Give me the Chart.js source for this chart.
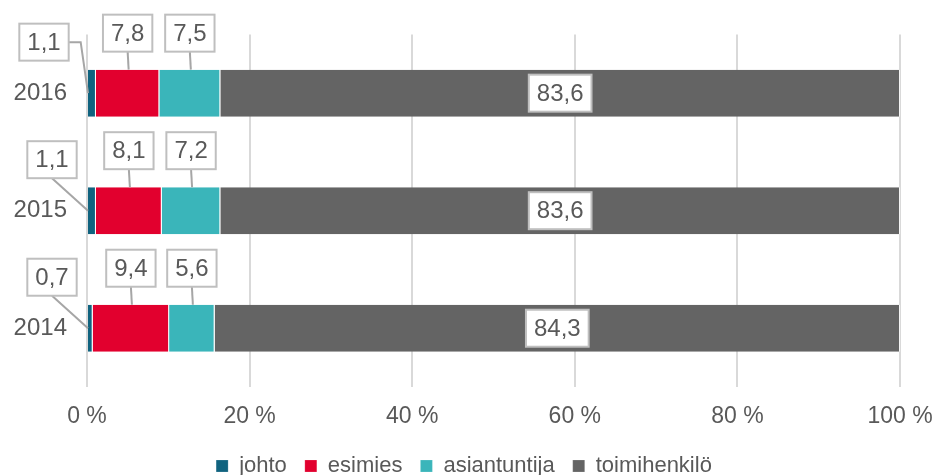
<!DOCTYPE html>
<html lang="fi">
<head>
<meta charset="utf-8">
<title>Henkilöstö tehtävätason mukaan</title>
<script src="https://cdn.jsdelivr.net/npm/chart.js@4.4.1/dist/chart.umd.min.js"></script>
<style>
  html, body { margin: 0; padding: 0; background: #fff; }
  #wrap { width: 934px; height: 475px; }
</style>
</head>
<body>
<div id="wrap"><canvas id="chart" width="934" height="475"></canvas></div>
<script>
// categories (top to bottom) and shares in percent
const years = ['2016', '2015', '2014'];
const johto = [1.1, 1.1, 0.7];
const esimies = [7.8, 8.1, 9.4];
const asiantuntija = [7.5, 7.2, 5.6];
const toimihenkilo = [83.6, 83.6, 84.3];
const xTicks = [0, 20, 40, 60, 80, 100];

const TEXT = '#595959';
const FONT = "'Liberation Sans', Arial, sans-serif";

// value as text with a decimal comma
function fi(v){ return v.toFixed(1).replace('.', ','); }

// boxed value labels; the first three series sit above the bar with a leader line
const boxLabels = {
  id: 'boxLabels',
  afterDatasetsDraw(chart){
    const ctx = chart.ctx;
    ctx.save();
    ctx.font = '24px ' + FONT;
    ctx.textAlign = 'center';
    ctx.textBaseline = 'middle';
    chart.data.datasets.forEach((ds, i) => {
      const meta = chart.getDatasetMeta(i);
      meta.data.forEach((bar, j) => {
        const txt = fi(ds.data[j]);
        const w = ctx.measureText(txt).width + 16;
        const h = 37;
        const top = bar.y - bar.height / 2;
        const left = Math.min(bar.x, bar.base);
        const cx = (bar.x + bar.base) / 2;
        let bx, by;
        ctx.strokeStyle = '#a6a6a6';
        ctx.lineWidth = 2;
        if(i === 3){
          bx = cx; by = bar.y;
        } else if(i === 0){
          bx = left - (j === 0 ? 44 : 36);
          by = top - 9 - h / 2;
          ctx.beginPath();
          if(j === 0){
            ctx.moveTo(bx + w / 2, by);
            ctx.lineTo(bx + w / 2 + 12, by);
          } else {
            ctx.moveTo(bx, by + h / 2);
          }
          ctx.lineTo(left, bar.y);
          ctx.stroke();
        } else {
          bx = cx;
          by = top - 18 - h / 2;
          ctx.beginPath();
          ctx.moveTo(bx, by + h / 2);
          ctx.lineTo(cx + 1, top);
          ctx.stroke();
        }
        ctx.fillStyle = '#fff';
        ctx.fillRect(bx - w / 2, by - h / 2, w, h);
        ctx.strokeStyle = '#bfbfbf';
        ctx.strokeRect(bx - w / 2, by - h / 2, w, h);
        ctx.fillStyle = TEXT;
        ctx.fillText(txt, bx, by + 1);
      });
    });
    ctx.restore();
  }
};

// fixed legend height so the plot bottom lands where it should,
// and a small nudge right after layout
const legendHeight = {
  id: 'legendHeight',
  beforeInit(chart){
    const fit = chart.legend.fit;
    chart.legend.fit = function(){
      fit.bind(chart.legend)();
      this.height = 38;
    };
  },
  afterLayout(chart){
    chart.legend.left += 14;
    chart.legend.right += 14;
  }
};

function ds(label, data, color){
  return {
    label, data,
    backgroundColor: color,
    borderColor: 'rgba(255,255,255,0.7)',
    borderWidth: { left: 0, right: 1, top: 0, bottom: 0 },
    borderSkipped: false,
    barPercentage: 0.4,
    categoryPercentage: 1
  };
}

const chart = new Chart(document.getElementById('chart'), {
  type: 'bar',
  data: {
    labels: years,
    datasets: [
      ds('johto', johto, '#10637f'),
      ds('esimies', esimies, '#e2002e'),
      ds('asiantuntija', asiantuntija, '#3ab5ba'),
      ds('toimihenkilö', toimihenkilo, '#646464')
    ]
  },
  options: {
    indexAxis: 'y',
    responsive: false,
    animation: false,
    layout: { padding: { left: 0, right: 34, top: 33, bottom: 0 } },
    scales: {
      x: {
        stacked: true,
        min: 0, max: 100,
        afterBuildTicks(scale){ scale.ticks = xTicks.map(v => ({ value: v })); },
        afterFit(scale){
          scale.height = 50;
          scale.paddingLeft = 0;
          scale.paddingRight = 0;
        },
        grid: { color: '#d9d9d9', lineWidth: 2, drawTicks: false },
        border: { display: false },
        ticks: {
          padding: 16,
          color: TEXT,
          font: { family: FONT, size: 23 },
          callback: v => v + ' %'
        }
      },
      y: {
        stacked: true,
        afterFit(scale){ scale.width = 87; },
        grid: { display: false, drawTicks: false },
        border: { display: false },
        ticks: {
          padding: 20,
          color: TEXT,
          font: { family: FONT, size: 24 }
        }
      }
    },
    plugins: {
      tooltip: { enabled: false },
      legend: {
        position: 'bottom',
        labels: {
          boxWidth: 12,
          boxHeight: 12,
          padding: 18,
          color: TEXT,
          font: { family: FONT, size: 22 }
        }
      }
    }
  },
  plugins: [boxLabels, legendHeight]
});
</script>
</body>
</html>
